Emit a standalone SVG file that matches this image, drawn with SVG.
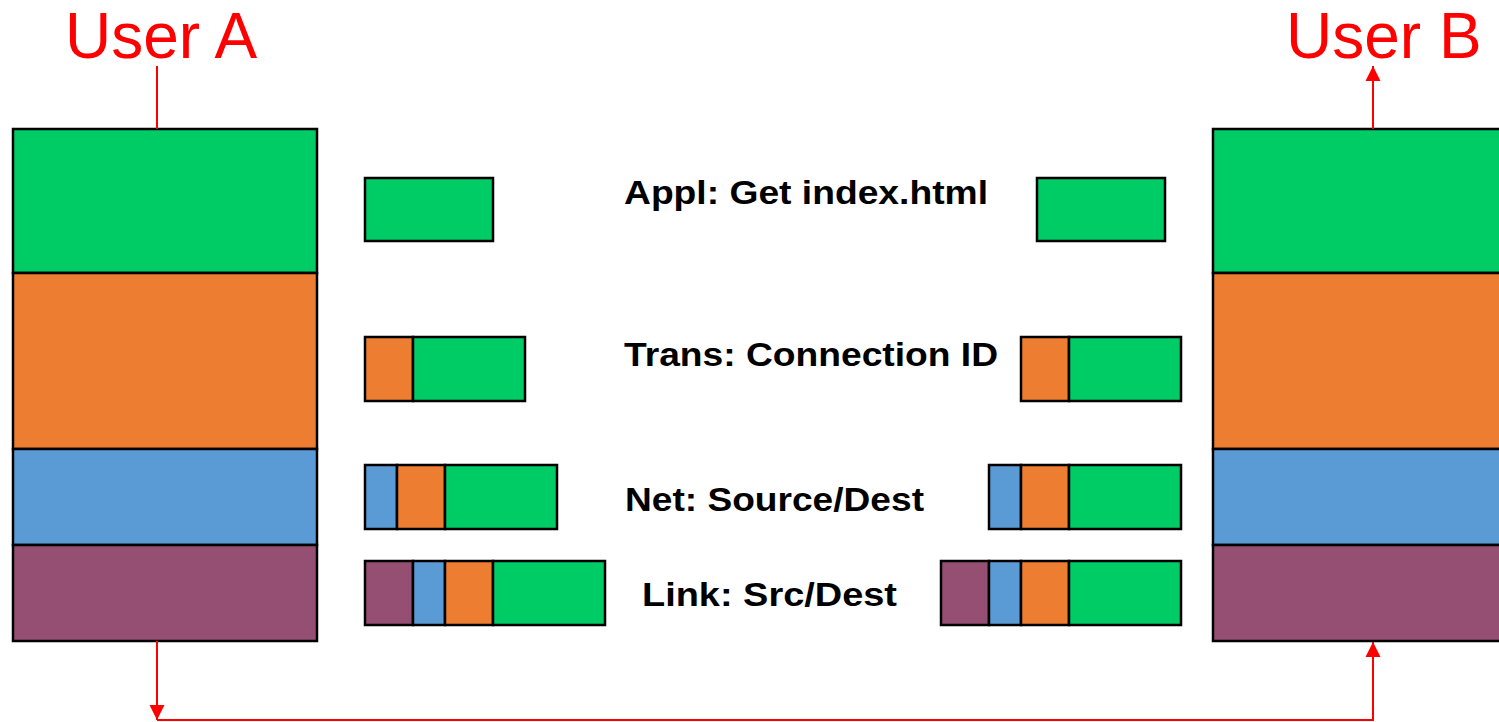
<svg xmlns="http://www.w3.org/2000/svg" width="1499" height="722" viewBox="0 0 1499 722">
<defs>
<marker id="arr" markerUnits="userSpaceOnUse" markerWidth="16" markerHeight="16" viewBox="0 0 16 16" refX="15" refY="8" orient="auto">
<path d="M0,0.5 L15,8 L0,15.5 Z" fill="#FF0000"/>
</marker>
</defs>
<style>
rect{stroke:#000;stroke-width:2.5}
.g{fill:#00CC66}.o{fill:#ED7D31}.b{fill:#5B9BD5}.p{fill:#954F72}
.lbl{font-family:"Liberation Sans",Arial,sans-serif;font-weight:bold;font-size:33px;fill:#000}
.usr{font-family:"Liberation Sans",Arial,sans-serif;font-size:64px;fill:#FF0000}
.c{fill:none;stroke:#FF0000;stroke-width:2}
</style>
<rect width="1499" height="722" fill="#fff" stroke="none" style="stroke:none"/>

<g id="stackA">
<rect class="g" x="13" y="129" width="304" height="144"/>
<rect class="o" x="13" y="273" width="304" height="176"/>
<rect class="b" x="13" y="449" width="304" height="96"/>
<rect class="p" x="13" y="545" width="304" height="96"/>
</g>
<g id="stackB">
<rect class="g" x="1213" y="129" width="304" height="144"/>
<rect class="o" x="1213" y="273" width="304" height="176"/>
<rect class="b" x="1213" y="449" width="304" height="96"/>
<rect class="p" x="1213" y="545" width="304" height="96"/>
</g>

<g id="applA"><rect class="g" x="365" y="178" width="128" height="63"/></g>
<g id="applB"><rect class="g" x="1037" y="178" width="128" height="63"/></g>

<g id="transA">
<rect class="o" x="365" y="337" width="48" height="64"/>
<rect class="g" x="413" y="337" width="112" height="64"/>
</g>
<g id="transB">
<rect class="o" x="1021" y="337" width="48" height="64"/>
<rect class="g" x="1069" y="337" width="112" height="64"/>
</g>

<g id="netA">
<rect class="b" x="365" y="465" width="32" height="64"/>
<rect class="o" x="397" y="465" width="48" height="64"/>
<rect class="g" x="445" y="465" width="112" height="64"/>
</g>
<g id="netB">
<rect class="b" x="989" y="465" width="32" height="64"/>
<rect class="o" x="1021" y="465" width="48" height="64"/>
<rect class="g" x="1069" y="465" width="112" height="64"/>
</g>

<g id="linkA">
<rect class="p" x="365" y="561" width="48" height="64"/>
<rect class="b" x="413" y="561" width="32" height="64"/>
<rect class="o" x="445" y="561" width="48" height="64"/>
<rect class="g" x="493" y="561" width="112" height="64"/>
</g>
<g id="linkB">
<rect class="p" x="941" y="561" width="48" height="64"/>
<rect class="b" x="989" y="561" width="32" height="64"/>
<rect class="o" x="1021" y="561" width="48" height="64"/>
<rect class="g" x="1069" y="561" width="112" height="64"/>
</g>

<g id="labels">
<text class="lbl" x="624" y="204" textLength="364" lengthAdjust="spacingAndGlyphs">Appl: Get index.html</text>
<text class="lbl" x="624" y="366" textLength="374" lengthAdjust="spacingAndGlyphs">Trans: Connection ID</text>
<text class="lbl" x="625" y="511" textLength="299" lengthAdjust="spacingAndGlyphs">Net: Source/Dest</text>
<text class="lbl" x="642" y="606" textLength="255" lengthAdjust="spacingAndGlyphs">Link: Src/Dest</text>
</g>

<g id="userA"><text class="usr" x="65" y="58">User A</text></g>
<g id="userB"><text class="usr" x="1286" y="58">User B</text></g>

<g id="connectors">
<path class="c" d="M157,66 V129"/>
<path class="c" d="M157,641 V720" marker-end="url(#arr)"/>
<path class="c" d="M157,720 H1373 V642" marker-end="url(#arr)"/>
<path class="c" d="M1373,129 V66" marker-end="url(#arr)"/>
</g>
</svg>
